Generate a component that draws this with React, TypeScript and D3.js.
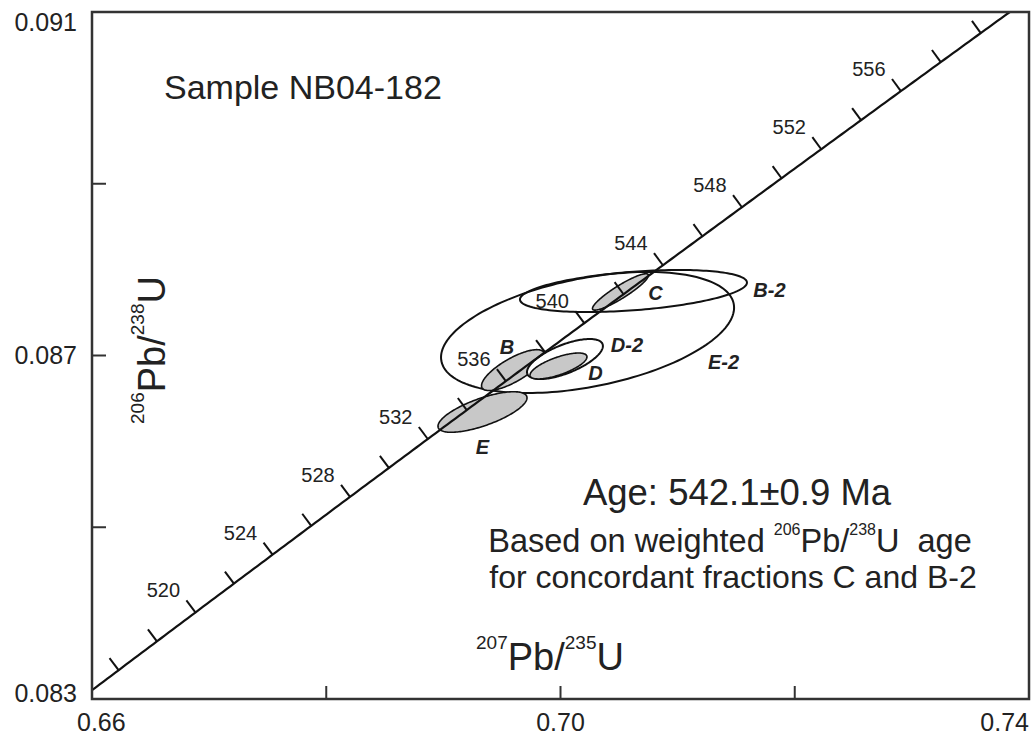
import React from 'react';
import * as d3 from 'd3';

// decay constants (per year)
const L238 = 1.55125e-10;
const L235 = 9.8485e-10;

const xTicks = [0.66, 0.68, 0.7, 0.72, 0.74];
const xTickLabels = ['0.66', '', '0.70', '', '0.74'];
const yTicks = [0.083, 0.085, 0.087, 0.089, 0.091];
const yTickLabels = ['0.083', '', '0.087', '', '0.091'];

// concordia age marks (Ma)
const ageTicks = [516, 518, 520, 522, 524, 526, 528, 530, 532, 534, 536, 538, 540, 542, 544, 546, 548, 550, 552, 554, 556, 558, 560];
const ageLabels = [520, 524, 528, 532, 536, 540, 544, 548, 552, 556];

// zircon fractions, drawn in this order
const fractions = ['E-2', 'B-2', 'B', 'E', 'D-2', 'D', 'C'];
const pb207u235 = [0.70231, 0.70623, 0.69594, 0.69334, 0.70038, 0.69983, 0.70512];
const pb206u238 = [0.087268, 0.087751, 0.08683, 0.086342, 0.086959, 0.086878, 0.08774];
const err207 = [0.01251, 0.00969, 0.00268, 0.0038, 0.00324, 0.00243, 0.00239];
const err206 = [0.000705, 0.000245, 0.000238, 0.000236, 0.000233, 0.000151, 0.000212];
const rho = [0.41, 0.4, 0.76, 0.7, 0.65, 0.7, 0.91];

const W = 1034;
const H = 735;
const M = { left: 92, right: 1029, top: 12, bottom: 699 };

const FONT = 'Liberation Sans, Arial, Helvetica, sans-serif';
const INK = '#222';

const x = d3.scaleLinear().domain([0.66, 0.74]).range([M.left, M.right]);
const y = d3.scaleLinear().domain([0.083, 0.091]).range([M.bottom, M.top]);

const conc = (t: number) => [Math.exp(L235 * t * 1e6) - 1, Math.exp(L238 * t * 1e6) - 1];
const concPx = (t: number) => {
  const [a, b] = conc(t);
  return [x(a), y(b)];
};

const labelOffset: Record<string, number[]> = {
  C: [35, 1],
  'B-2': [136, -1],
  'D-2': [62, -14],
  D: [37, 7],
  'E-2': [136, 30],
  B: [-6, -23],
  E: [0, 35],
};

function ellipsePath(i: number) {
  const pts = d3.range(0, Math.PI * 2, Math.PI / 90).map(th => {
    const ex = pb207u235[i] + err207[i] * Math.cos(th);
    const ey =
      pb206u238[i] +
      err206[i] * (rho[i] * Math.cos(th) + Math.sqrt(1 - rho[i] * rho[i]) * Math.sin(th));
    return [ex, ey] as [number, number];
  });
  return d3
    .line<[number, number]>()
    .x(d => x(d[0]))
    .y(d => y(d[1]))
    .curve(d3.curveLinearClosed)(pts);
}

export default function App() {
  const tMin = Math.log(1.66) / L235 / 1e6;
  const tMax = Math.log(1.091) / L238 / 1e6;
  const ages = d3.range(tMin, tMax, 0.2).concat([tMax]);
  const concLine = d3
    .line<number>()
    .x(t => concPx(t)[0])
    .y(t => concPx(t)[1])(ages);

  const lastX = xTicks.length - 1;
  const lastY = yTicks.length - 1;

  return (
    <svg
      width={W}
      height={H}
      style={{ position: 'absolute', left: 0, top: 0, background: '#fff' }}
      fontFamily={FONT}
    >
      {/* ellipses */}
      {fractions.map((f, i) => {
        const gray = !f.includes('-2');
        const fill = gray ? '#c8c8c8' : f === 'D-2' ? '#fff' : 'none';
        return (
          <path
            key={f}
            d={ellipsePath(i) || ''}
            fill={fill}
            stroke="#111"
            strokeWidth={gray ? 1.6 : 2}
          />
        );
      })}

      {/* concordia */}
      <path d={concLine || ''} fill="none" stroke="#111" strokeWidth={2.2} />
      {ageTicks.map(t => {
        const [px, py] = concPx(t);
        const [qx, qy] = concPx(t + 0.01);
        const [rx, ry] = concPx(t - 0.01);
        const len = Math.hypot(qx - rx, qy - ry);
        const ux = (qx - rx) / len;
        const uy = (qy - ry) / len;
        return (
          <line
            key={t}
            x1={px}
            y1={py}
            x2={px + 15 * uy}
            y2={py - 15 * ux}
            stroke="#111"
            strokeWidth={2}
          />
        );
      })}
      {ageLabels.map(t => {
        const [px, py] = concPx(t);
        return (
          <text
            key={t}
            x={px - 32}
            y={py - 22}
            dy="0.35em"
            textAnchor="middle"
            fontSize={20}
            fill={INK}
          >
            {t}
          </text>
        );
      })}

      {/* fraction labels */}
      {fractions.map((f, i) => (
        <text
          key={f}
          x={x(pb207u235[i]) + labelOffset[f][0]}
          y={y(pb206u238[i]) + labelOffset[f][1]}
          dy="0.35em"
          textAnchor="middle"
          fontSize={20}
          fontWeight="bold"
          fontStyle="italic"
          fill={INK}
        >
          {f}
        </text>
      ))}

      {/* frame and ticks */}
      <rect
        x={M.left}
        y={M.top}
        width={M.right - M.left}
        height={M.bottom - M.top}
        fill="none"
        stroke="#333"
        strokeWidth={2.5}
      />
      {xTicks.map(v => (
        <line key={v} x1={x(v)} x2={x(v)} y1={M.bottom} y2={M.bottom - 13} stroke="#333" strokeWidth={2} />
      ))}
      {yTicks.map(v => (
        <line key={v} x1={M.left} x2={M.left + 14} y1={y(v)} y2={y(v)} stroke="#333" strokeWidth={2} />
      ))}
      {xTicks.map((v, i) =>
        xTickLabels[i] ? (
          <text
            key={v}
            x={i === 0 ? x(v) - 15 : x(v)}
            y={M.bottom + 32}
            textAnchor={i === 0 ? 'start' : i === lastX ? 'end' : 'middle'}
            fontSize={25}
            fill={INK}
          >
            {xTickLabels[i]}
          </text>
        ) : null
      )}
      {yTicks.map((v, i) =>
        yTickLabels[i] ? (
          <text
            key={v}
            x={M.left - 15}
            y={y(v) + (i === 0 ? -6 : i === lastY ? 10 : 0)}
            dy="0.35em"
            textAnchor="end"
            fontSize={25}
            fill={INK}
          >
            {yTickLabels[i]}
          </text>
        ) : null
      )}

      {/* axis titles */}
      <text x={550} y={670} textAnchor="middle" fontSize={38} fill={INK}>
        <tspan fontSize={19} dy={-21}>207</tspan>
        <tspan dy={21}>Pb/</tspan>
        <tspan fontSize={19} dy={-21}>235</tspan>
        <tspan dy={21}>U</tspan>
      </text>
      <text transform="translate(165,350) rotate(-90)" textAnchor="middle" fontSize={38} fill={INK}>
        <tspan fontSize={19} dy={-21}>206</tspan>
        <tspan dy={21}>Pb/</tspan>
        <tspan fontSize={19} dy={-21}>238</tspan>
        <tspan dy={21}>U</tspan>
      </text>

      {/* annotations */}
      <text x={164} y={99} fontSize={34} fill={INK}>
        Sample NB04-182
      </text>
      <text x={737} y={505} textAnchor="middle" fontSize={36.5} fill={INK}>
        Age: 542.1±0.9 Ma
      </text>
      <text x={730} y={552} textAnchor="middle" fontSize={32.5} fill={INK} style={{ whiteSpace: 'pre' }}>
        <tspan>Based on weighted </tspan>
        <tspan fontSize={16} dy={-17}>206</tspan>
        <tspan dy={17}>Pb/</tspan>
        <tspan fontSize={16} dy={-17}>238</tspan>
        <tspan dy={17}>U  age</tspan>
      </text>
      <text x={733} y={588} textAnchor="middle" fontSize={32} fill={INK}>
        for concordant fractions C and B-2
      </text>
    </svg>
  );
}
